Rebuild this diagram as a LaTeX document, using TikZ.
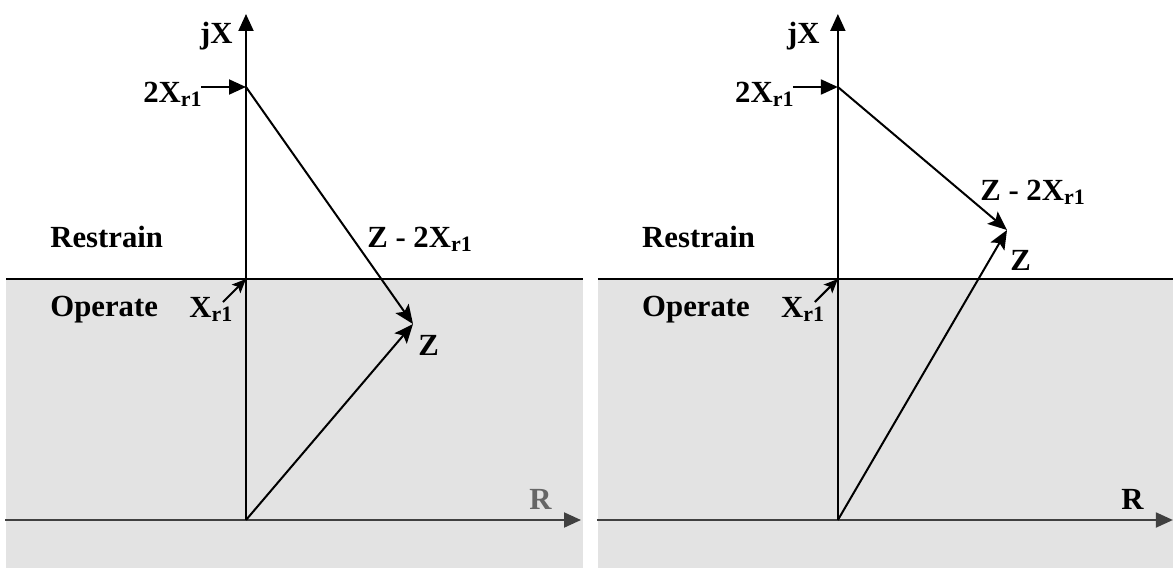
\documentclass[tikz,border=0pt]{standalone}
\usepackage{fontspec}
\setmainfont{Liberation Serif}
\usetikzlibrary{arrows.meta}
\newcommand{\Xrone}{X\raisebox{-0.35ex}{\fontsize{12.5}{14}\selectfont r1}}

\begin{document}
\begin{tikzpicture}[x=0.02cm, y=-0.02cm,
    lbl/.style={inner sep=0pt, font=\bfseries\fontsize{17.5}{21}\selectfont},
    axis/.style={line width=0.04cm, -{Triangle[length=0.34cm, width=0.3cm]}},
    vec/.style={line width=0.04cm, -{Stealth[length=0.38cm, width=0.32cm, inset=0.08cm]}},
    tick/.style={line width=0.04cm, -{Stealth[length=0.28cm, width=0.24cm, inset=0.06cm]}},
    zone/.style={fill=black!11, draw=none}]
  \useasboundingbox (0,0) rectangle (1173,568);
  % both panels share the plane, the zones and the X_r1 marks
  \foreach \p/\rcol/\jxend in {0/black!60/233, 1/black/228} {
    \begin{scope}[xshift={\p*11.84cm}]
      \fill[zone] (6,279) rectangle (583,568);
      \draw[line width=0.03cm] (6,279) -- (583,279);
      \coordinate (west\p) at (5,520);
      \coordinate (east\p) at (581,520);
      \coordinate (orig\p) at (246,520);
      \coordinate (top\p) at (246,14);
      \coordinate (twoX\p) at (246,87);
      \coordinate (oneX\p) at (246,279);
      \coordinate (tail\p) at (201,87);
      \coordinate (stub\p) at (223,302);
      \draw[axis, draw=black!75] (west\p) -- (east\p);
      \draw[axis] (orig\p) -- (top\p);
      \draw[axis] (tail\p) -- (twoX\p);
      \draw[tick] (stub\p) -- (oneX\p);
      \node[lbl, anchor=base east] (jx\p) at (\jxend,43) {jX};
      \node[lbl, anchor=base east] (twoXlbl\p) at (202,102) {2\Xrone};
      \node[lbl, anchor=base west] (rest\p) at (50,247) {Restrain};
      \node[lbl, anchor=base west] (oper\p) at (50,316) {Operate};
      \node[lbl, anchor=base west] (oneXlbl\p) at (189,317) {\Xrone};
      \node[lbl, anchor=base east, text=\rcol] (rlbl\p) at (552,509) {R};
    \end{scope}
  }
  % left: Z in the operate zone
  \coordinate (zend0) at (413,324);
  \draw[vec] (twoX0) -- (zend0);
  \draw[vec] (orig0) -- (zend0);
  \node[lbl, anchor=base west] (zlbl0) at (418,355) {Z};
  \node[lbl, anchor=base west] (diff0) at (367,247) {Z - 2\Xrone};
  % right: Z in the restrain zone
  \coordinate (zend1) at (1007,230);
  \draw[vec] (twoX1) -- (zend1);
  \draw[vec] (orig1) -- (zend1);
  \node[lbl, anchor=base west] (zlbl1) at (1010,270) {Z};
  \node[lbl, anchor=base west] (diff1) at (980,200) {Z - 2\Xrone};
\end{tikzpicture}
\end{document}
